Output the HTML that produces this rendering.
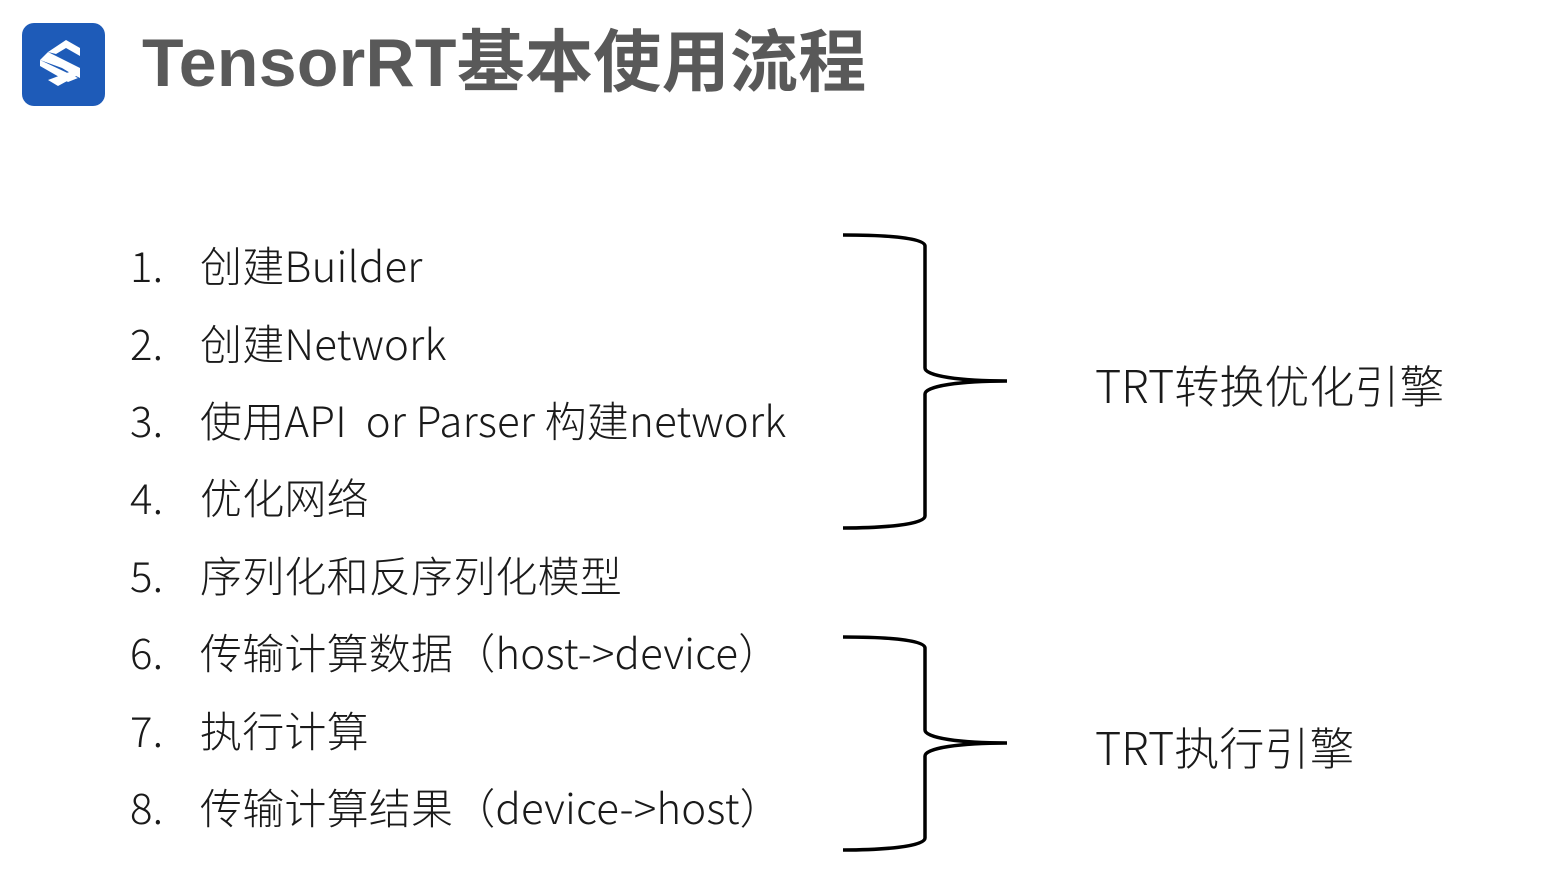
<!DOCTYPE html>
<html><head><meta charset="utf-8"><style>
body{margin:0;width:1546px;height:870px;background:#fff;position:relative;overflow:hidden;font-family:"Liberation Sans","Noto Sans CJK SC",sans-serif}
.t{position:absolute;left:142px;top:23px;font-size:68px;font-weight:bold;color:#595959;line-height:80px;white-space:nowrap;letter-spacing:0.3px}
.li{position:absolute;font-size:42px;color:#1a1a1a;line-height:50px;white-space:nowrap;font-family:"Noto Sans CJK SC",sans-serif;font-weight:300;letter-spacing:0.2px}
.n{position:absolute;left:130px}
.x{position:absolute;left:200px}
.r{position:absolute;left:1095px;font-size:45px;color:#1a1a1a;white-space:nowrap;line-height:50px;font-family:"Noto Sans CJK SC",sans-serif;font-weight:300}
</style></head><body>
<svg style="position:absolute;left:0;top:0" width="1546" height="870">
<rect x="22" y="23" width="83" height="83" rx="12" fill="#1e5bb8"/>
<g fill="#fff">
<polygon points="48,52 66,40 80,48 80,56 66,48 56,54"/>
<polygon points="40,60 48,52 80,68 80,78 72,74 62,68"/>
<polygon points="40,60 40,66 68,82 78,78"/>
<polygon points="48,80 58,86 80,74 80,68"/>
</g>
<g fill="none" stroke="#000" stroke-width="3.5">
<path d="M843,235 C880,235 925,237 925,246 L925,368 C925,376 960,381 1007,381 C960,381 925,386 925,394 L925,516 C925,525 880,528 843,528"/>
<path d="M843,637 C880,637 925,639 925,648 L925,730 C925,738 960,743 1007,743 C960,743 925,748 925,756 L925,838 C925,847 880,850 843,850"/>
</g>
</svg>
<div class="t">TensorRT基本使用流程</div>
<div class="li" style="top:240px"><span class="n">1.</span><span class="x">创建Builder</span></div>
<div class="li" style="top:318px"><span class="n">2.</span><span class="x">创建Network</span></div>
<div class="li" style="top:395px"><span class="n">3.</span><span class="x">使用API&nbsp; or Parser 构建network</span></div>
<div class="li" style="top:472px"><span class="n">4.</span><span class="x">优化网络</span></div>
<div class="li" style="top:550px"><span class="n">5.</span><span class="x">序列化和反序列化模型</span></div>
<div class="li" style="top:627px"><span class="n">6.</span><span class="x">传输计算数据（host-&gt;device）</span></div>
<div class="li" style="top:705px"><span class="n">7.</span><span class="x">执行计算</span></div>
<div class="li" style="top:782px"><span class="n">8.</span><span class="x">传输计算结果（device-&gt;host）</span></div>
<div class="r" style="top:359px">TRT转换优化引擎</div>
<div class="r" style="top:721px">TRT执行引擎</div>
</body></html>
